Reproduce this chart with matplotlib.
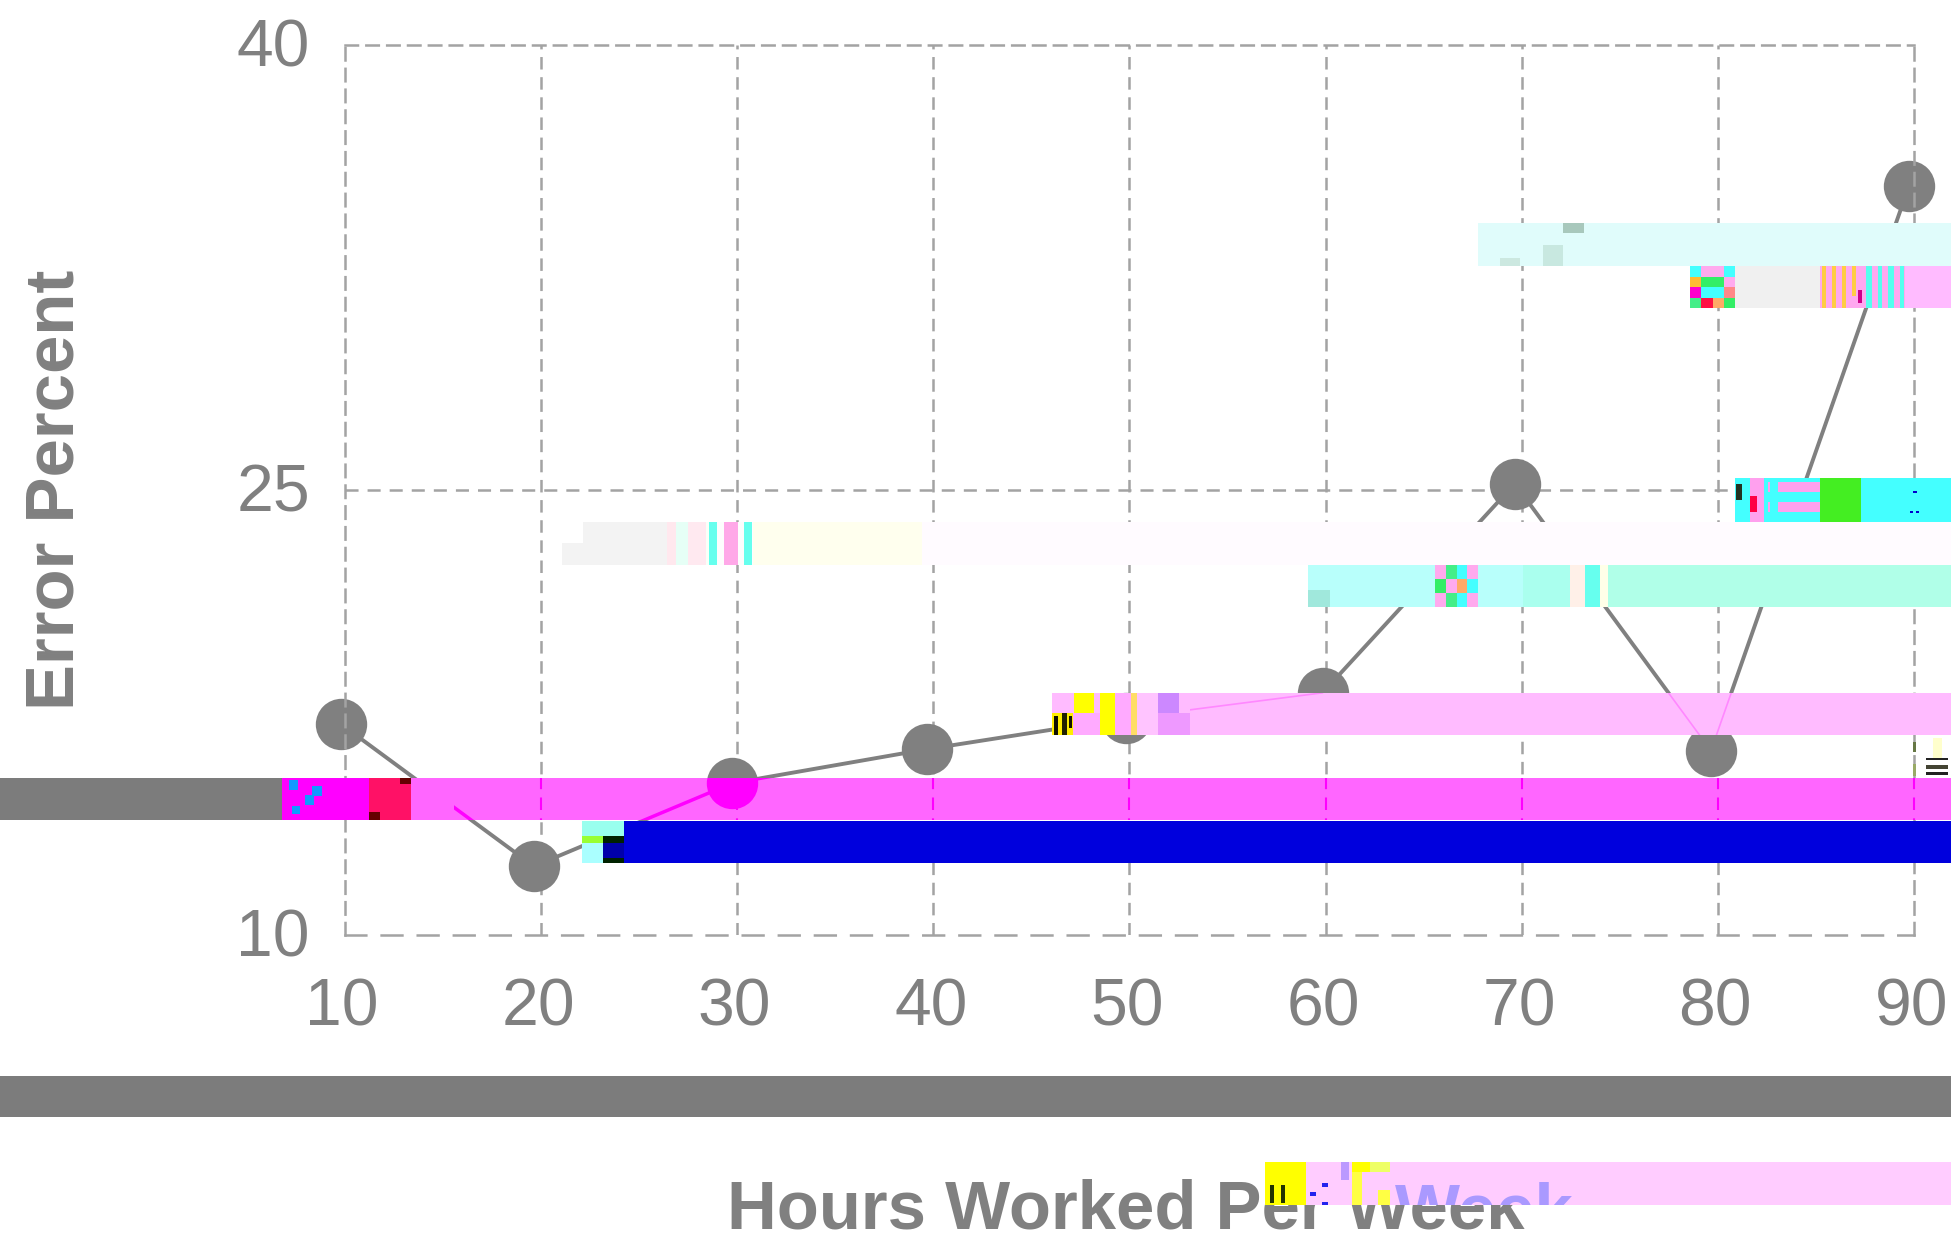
import matplotlib
matplotlib.use("Agg")
import matplotlib.pyplot as plt
from matplotlib.patches import Rectangle
from matplotlib.transforms import ScaledTranslation

plt.rcParams['font.family'] = ['Liberation Sans', 'DejaVu Sans']
plt.rcParams['lines.scale_dashes'] = False

# values
hours = [9.8, 19.65, 29.75, 39.7, 49.85, 59.85, 69.65, 79.65, 89.75]
error_pct = [17.1, 12.3, 15.1, 16.25, 17.3, 18.15, 25.2, 16.2, 35.25]
x_ticks = [10, 20, 30, 40, 50, 60, 70, 80, 90]
y_ticks = [10, 25, 40]
x_title = "Hours Worked Per Week"
y_title = "Error Percent"

W, H = 1951, 1241
GRAY = "#808080"
GRID = "#a3a3a3"

# broken image strips, pixels: x0, x1, y0, y1, colour
strips = [
    (1478, 1951, 223, 266, "#e0fcfb"),
    (1543, 1563, 245, 266, "#c8e8e0"),
    (1563, 1584, 223, 233, "#a8c8bc"),
    (1500, 1520, 258, 266, "#cce8e0"),
    (1735, 1820, 266, 308, "#f0f0f0"),
    (1820, 1905, 266, 308, "#ffa8f0"),
    (1905, 1951, 266, 308, "#ffbbff"),
    (1735, 1951, 478, 522, "#44ffff"),
    (1735, 1750, 478, 522, "#44ffff"),
    (1750, 1764, 478, 522, "#ffa0ee"),
    (1768, 1820, 482, 492, "#ffa0ee"),
    (1768, 1820, 502, 512, "#ffa0ee"),
    (1820, 1861, 478, 522, "#44ee22"),
    (562, 1951, 543, 565, "#fffbff"),
    (583, 1951, 522, 543, "#fffbff"),
    (562, 667, 543, 565, "#f3f3f3"),
    (583, 667, 522, 543, "#f3f3f3"),
    (667, 676, 522, 565, "#ffe8ee"),
    (676, 688, 522, 565, "#e6fff6"),
    (688, 706, 522, 565, "#ffe9f0"),
    (706, 709, 522, 565, "#f8fff8"),
    (709, 717, 522, 565, "#66ffee"),
    (717, 724, 522, 565, "#fdfdfd"),
    (724, 738, 522, 565, "#ffa8e8"),
    (738, 744, 522, 565, "#fdfdfd"),
    (744, 752, 522, 565, "#66ffee"),
    (753, 922, 522, 565, "#ffffee"),
    (1308, 1951, 565, 607, "#b8fffb"),
    (1308, 1330, 590, 607, "#a0e8dc"),
    (1523, 1570, 565, 607, "#aaffee"),
    (1570, 1585, 565, 607, "#fff0e8"),
    (1585, 1600, 565, 607, "#66ffee"),
    (1600, 1608, 565, 607, "#ffffe8"),
    (1608, 1951, 565, 607, "#b0ffe8"),
    (1052, 1951, 693, 735, "#ffbbff"),
    (1074, 1094, 693, 713, "#ffff00"),
    (1052, 1073, 713, 735, "#ffee00"),
    (1073, 1100, 713, 735, "#ffaaff"),
    (1100, 1115, 693, 735, "#ffff00"),
    (1115, 1131, 693, 735, "#ffaaff"),
    (1131, 1137, 693, 735, "#ffdd66"),
    (1137, 1158, 693, 735, "#ffc4ff"),
    (1158, 1179, 693, 713, "#cc88ff"),
    (1158, 1190, 713, 735, "#ee99ff"),
    (0, 282, 778, 820, "#7c7c7c"),
    (282, 325, 778, 820, "#ff00ff"),
    (325, 369, 778, 820, "#ff00ff"),
    (369, 411, 778, 820, "#ff1166"),
    (411, 1951, 778, 820, "#ff66ff"),
    (582, 1951, 821, 863, "#0000dd"),
    (582, 624, 821, 836, "#99ffee"),
    (582, 603, 836, 843, "#99ff33"),
    (603, 624, 836, 843, "#002200"),
    (582, 603, 843, 863, "#aaffff"),
    (603, 624, 843, 863, "#0000aa"),
    (603, 624, 858, 863, "#002200"),
    (0, 1951, 1076, 1117, "#7c7c7c"),
    (1265, 1951, 1162, 1205, "#ffccff"),
    (1265, 1306, 1162, 1205, "#ffff00"),
]

# small specks on top of the strips
specks = [
    (1054, 1058, 716, 735, "#111100"),
    (1062, 1067, 713, 735, "#222200"),
    (1069, 1072, 716, 728, "#111100"),
    (289, 298, 780, 790, "#1199ff"),
    (305, 314, 795, 805, "#1199ff"),
    (292, 300, 806, 814, "#1199ff"),
    (312, 322, 786, 796, "#1199ff"),
    (400, 411, 778, 784, "#660000"),
    (369, 380, 812, 820, "#660000"),
    (1770, 1778, 478, 522, "#44ffff"),
    (1736, 1742, 484, 500, "#223322"),
    (1750, 1757, 496, 512, "#ff0044"),
    (1913, 1917, 491, 493, "#0000cc"),
    (1910, 1913, 511, 513, "#0000cc"),
    (1916, 1919, 511, 513, "#0000cc"),
    (1926, 1948, 758, 760, "#222222"),
    (1926, 1948, 765, 769, "#444433"),
    (1926, 1948, 772, 775, "#222222"),
    (1933, 1942, 738, 758, "#ffffcc"),
    (1913, 1916, 742, 752, "#667744"),
    (1913, 1916, 764, 776, "#99aa66"),
    (1270, 1274, 1185, 1203, "#223300"),
    (1281, 1285, 1185, 1203, "#223300"),
    (1310, 1316, 1192, 1196, "#2222ee"),
    (1322, 1328, 1183, 1187, "#2222ee"),
    (1322, 1328, 1202, 1205, "#2222ee"),
    (1341, 1349, 1162, 1180, "#bb99ff"),
    (1352, 1375, 1162, 1172, "#ffff00"),
    (1352, 1362, 1172, 1205, "#ffff44"),
    (1378, 1390, 1190, 1205, "#ffff44"),
    (1370, 1390, 1162, 1172, "#eeff66"),
    (1822, 1826, 266, 308, "#ffcc44"),
    (1832, 1836, 266, 308, "#ffcc44"),
    (1842, 1846, 266, 308, "#ffcc44"),
    (1852, 1856, 266, 296, "#ffcc44"),
    (1858, 1862, 290, 303, "#cc0088"),
    (1866, 1872, 266, 308, "#55ffee"),
    (1878, 1882, 266, 308, "#55ffee"),
    (1888, 1894, 266, 308, "#55ffee"),
    (1900, 1904, 266, 308, "#55ffee"),
]

# colour tiles, one row per list
tiles_b = [
    ["#44ffff", "#ffaaee", "#ffaaee", "#44ffff"],
    ["#ffbb33", "#33ee66", "#33ee66", "#ffaaee"],
    ["#ff00cc", "#44ffff", "#44ffff", "#ff8888"],
    ["#44ee88", "#ff1144", "#ffaa66", "#33ee66"],
]
tiles_e = [
    ["#ffaaee", "#44ee88", "#44ffff", "#ffaaee"],
    ["#33ee66", "#ffaaee", "#ffaa66", "#44ffff"],
    ["#ffaaee", "#44ee88", "#44ffff", "#ffaaee"],
]


def add_strip(panel, x0, x1, y0, y1, colour):
    panel.add_patch(Rectangle((x0, y0), x1 - x0, y1 - y0, facecolor=colour,
                              edgecolor="none", antialiased=False))


def add_tiles(panel, x0, y0, width, height, rows):
    cell_h = height / len(rows)
    for r, row in enumerate(rows):
        cell_w = width / len(row)
        for c, colour in enumerate(row):
            add_strip(panel, x0 + c * cell_w, x0 + (c + 1) * cell_w,
                      y0 + r * cell_h, y0 + (r + 1) * cell_h, colour)


fig = plt.figure(figsize=(W / 100, H / 100), dpi=100, facecolor="white")
box = [344.7 / W, 1 - 934.5 / H, (1914 - 344.7) / W, (934.5 - 44.8) / H]

ax = fig.add_axes(box, zorder=1)
ax.set_xlim(10, 90)
ax.set_ylim(10, 40)
ax.set_xticks(x_ticks)
ax.set_yticks(y_ticks)
ax.tick_params(axis="x", length=0, pad=31, labelsize=47.5, labelcolor=GRAY)
ax.tick_params(axis="y", length=0, pad=25, labelsize=47.5, labelcolor=GRAY)
ax.grid(True, axis="x", color=GRID, linewidth=1.8, linestyle=(0, (9, 5.5)))
ax.grid(True, axis="y", color=GRID, linewidth=1.8, linestyle=(0, (9.4, 6.5)))
ax.set_axisbelow(True)
# the frame draws the outer lines, with its own dashes
for axis in (ax.xaxis, ax.yaxis):
    lines = axis.get_gridlines()
    lines[0].set_visible(False)
    lines[-1].set_visible(False)
for name, spine in ax.spines.items():
    spine.set_color(GRID)
    spine.set_linewidth(1.8)
    spine.set_linestyle((0, (15, 11)) if name == "bottom" else (0, (9, 6)))
for label in ax.get_xticklabels():
    label.set_transform(label.get_transform() + ScaledTranslation(-2.5 / 100, 0, fig.dpi_scale_trans))
for label in ax.get_yticklabels():
    label.set_transform(label.get_transform() + ScaledTranslation(0, 2 / 100, fig.dpi_scale_trans))
ax.plot(hours, error_pct, color=GRAY, linewidth=2.8, marker="o", markersize=37,
        markeredgewidth=0, clip_on=False)
ax.set_xlabel(x_title, fontsize=49.6, fontweight="bold", color=GRAY, labelpad=100, x=0.498)
ax.set_ylabel(y_title, fontsize=49.6, fontweight="bold", color=GRAY, labelpad=107)

# overlay in image pixels
panel = fig.add_axes([0, 0, 1, 1], zorder=2)
panel.set_xlim(0, W)
panel.set_ylim(H, 0)
panel.axis("off")
panel.patch.set_alpha(0)
for x0, x1, y0, y1, colour in strips + specks:
    add_strip(panel, x0, x1, y0, y1, colour)
add_tiles(panel, 1690, 266, 45, 42, tiles_b)
add_tiles(panel, 1435, 565, 43, 42, tiles_e)

ghost = panel.text(1395, 1232, "Week", fontsize=49.6, fontweight="bold",
                   color="#aa99ff", va="baseline", ha="left", clip_on=True)
ghost.set_clip_path(Rectangle((1306, 1162), 645, 43, transform=panel.transData))

# the chart showing through the pink strips
over = fig.add_axes(box, zorder=3)
over.set_xlim(10, 90)
over.set_ylim(10, 40)
over.axis("off")
over.patch.set_alpha(0)
through_g = Rectangle((454, 778), 1497, 42, transform=panel.transData)
through_f = Rectangle((1190, 693), 761, 42, transform=panel.transData)

line_g, = over.plot(hours, error_pct, color="#ff00ff", linewidth=2.5, marker="o",
                    markersize=37, markeredgewidth=0, clip_on=True)
line_g.set_clip_path(through_g)
for x in x_ticks[1:]:
    grid_g = over.axvline(x, color="#ff00ff", linewidth=1.5, linestyle=(0, (9, 6)))
    grid_g.set_clip_path(through_g)
line_f, = over.plot(hours, error_pct, color="#ff88ff", linewidth=1.2)
line_f.set_clip_path(through_f)

fig.savefig("out.png", dpi=100, facecolor="white")
